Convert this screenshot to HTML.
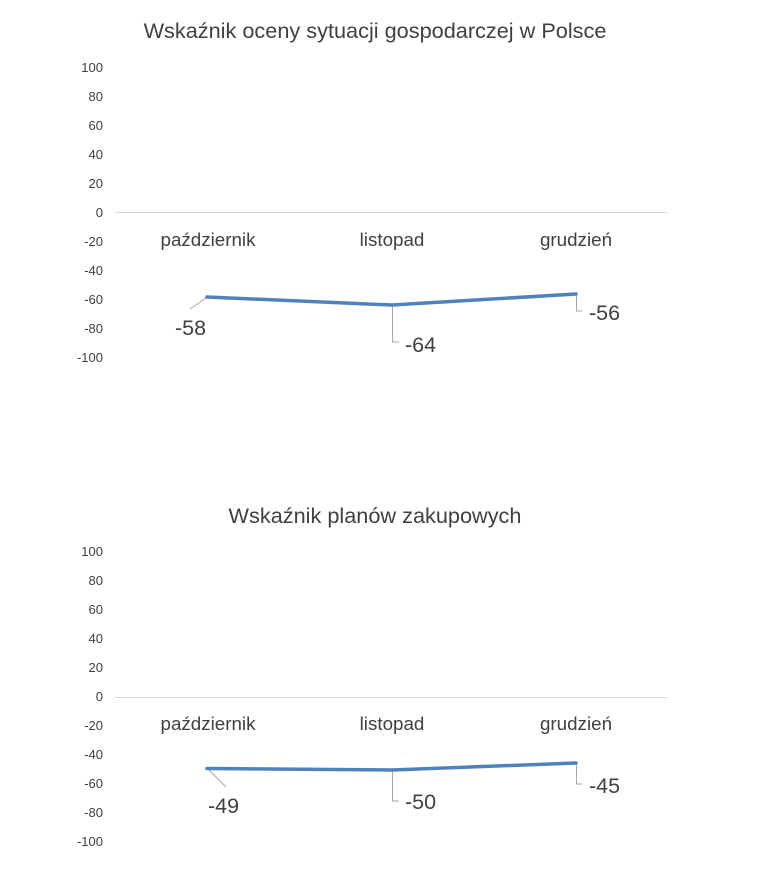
<!DOCTYPE html>
<html><head><meta charset="utf-8"><style>body{margin:0;background:#fff}svg{display:block}</style></head><body>
<svg width="778" height="872" xmlns="http://www.w3.org/2000/svg" font-family="'Liberation Sans', sans-serif">
<g fill="#404040">
<text x="375" y="38" font-size="21.7" text-anchor="middle">Wskaźnik oceny sytuacji gospodarczej w Polsce</text>
<g font-size="13" text-anchor="end">
<text x="103" y="72">100</text><text x="103" y="101">80</text><text x="103" y="130">60</text><text x="103" y="159">40</text><text x="103" y="188">20</text><text x="103" y="217">0</text><text x="103" y="246">-20</text><text x="103" y="275">-40</text><text x="103" y="304">-60</text><text x="103" y="333">-80</text><text x="103" y="362">-100</text>
</g>
<g font-size="18.8" text-anchor="middle"><text x="208" y="246">październik</text><text x="392" y="246">listopad</text><text x="576" y="246">grudzień</text></g>
<g font-size="21.5"><text x="175" y="335">-58</text><text x="405" y="352">-64</text><text x="589" y="320">-56</text></g>
<text x="375" y="523" font-size="21.7" text-anchor="middle">Wskaźnik planów zakupowych</text>
<g font-size="13" text-anchor="end">
<text x="103" y="556">100</text><text x="103" y="585">80</text><text x="103" y="614">60</text><text x="103" y="643">40</text><text x="103" y="672">20</text><text x="103" y="701">0</text><text x="103" y="730">-20</text><text x="103" y="759">-40</text><text x="103" y="788">-60</text><text x="103" y="817">-80</text><text x="103" y="846">-100</text>
</g>
<g font-size="18.8" text-anchor="middle"><text x="208" y="730">październik</text><text x="392" y="730">listopad</text><text x="576" y="730">grudzień</text></g>
<g font-size="21.5"><text x="208" y="813">-49</text><text x="405" y="809">-50</text><text x="589" y="793">-45</text></g>
</g>
<g stroke="#d9d9d9" stroke-width="1"><line x1="115" y1="212.5" x2="668" y2="212.5"/><line x1="115" y1="697.5" x2="668" y2="697.5"/></g>
<g stroke="#a6a6a6" stroke-width="1" fill="none">
<polyline points="206,298 190,309"/><polyline points="392.5,306 392.5,342 399,342"/><polyline points="576.5,295 576.5,311 582,311"/>
<polyline points="208,769 226,787"/><polyline points="392.5,770 392.5,801 399,801"/><polyline points="576.5,764 576.5,784 582,784"/>
</g>
<g stroke="#4f81bd" stroke-width="3.5" fill="none" stroke-linejoin="round" stroke-linecap="round">
<polyline points="207,297 392,305 576,294"/><polyline points="207,768.5 392,770 576,763"/>
</g>
</svg>
</body></html>
